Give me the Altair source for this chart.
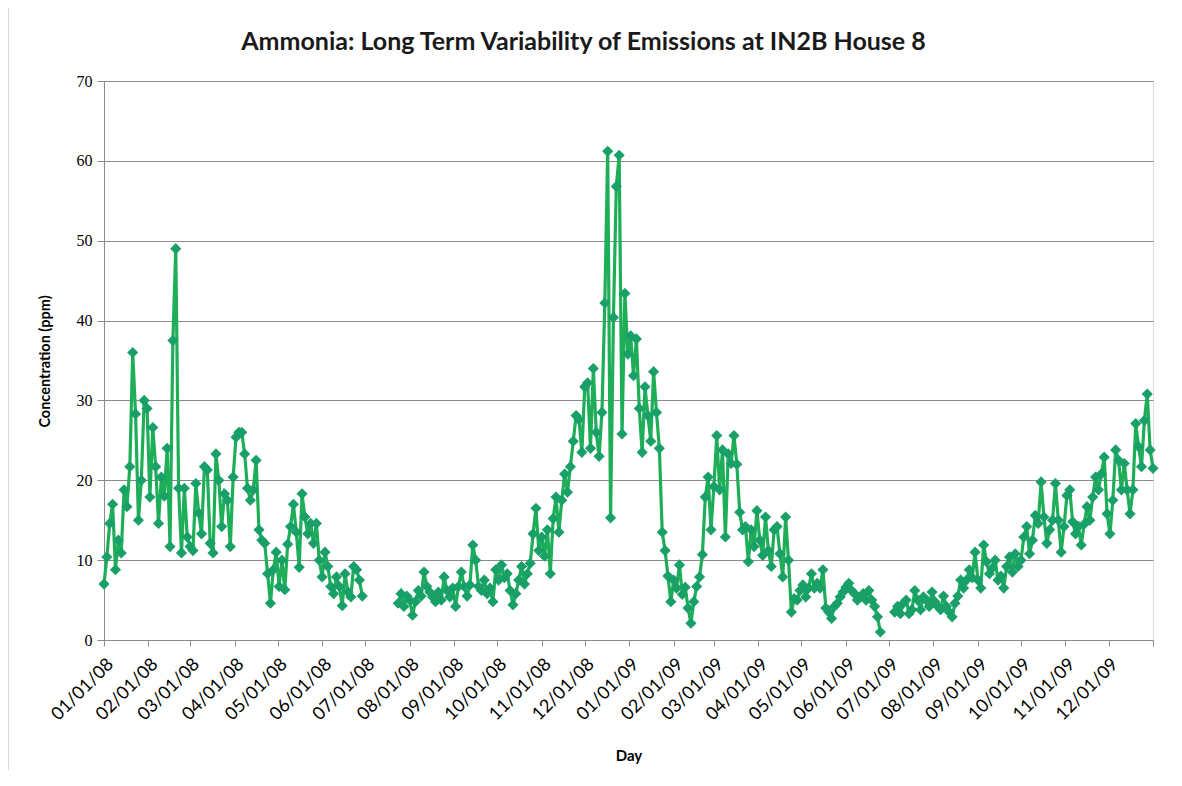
import altair as alt
import pandas as pd

# ---- data ----
step_days = 2

seg1_start = "2008-01-01"
seg1_values = [7.0, 10.4, 14.6, 17.0, 8.8, 12.5, 10.9, 18.8, 16.7, 21.7,
               36.0, 28.3, 15.0, 20.0, 30.0, 29.0, 17.9, 26.6, 21.7, 14.6,
               20.4, 18.0, 24.0, 11.7, 37.5, 49.0, 19.0, 10.9, 19.0, 12.9,
               11.7, 11.2, 19.6, 15.9, 13.3, 21.7, 21.3, 12.1, 10.9, 23.3,
               20.0, 14.2, 18.3, 17.5, 11.7, 20.4, 25.4, 26.0, 26.0, 23.3,
               19.0, 17.5, 18.8, 22.5, 13.8, 12.5, 12.1, 8.3, 4.6, 8.8,
               11.0, 6.7, 10.0, 6.3, 12.0, 14.2, 17.0, 13.5, 9.1, 18.3,
               15.4, 13.3, 14.6, 12.1, 14.6, 10.0, 7.9, 11.0, 9.2, 6.7,
               5.8, 7.9, 6.7, 4.3, 8.3, 6.0, 5.4, 9.2, 8.8, 7.5, 5.5]

seg2_start = "2008-07-24"
seg2_values = [4.6, 5.8, 4.2, 5.5, 5.0, 3.1, 4.8, 6.2, 5.5, 8.5,
               6.7, 6.0, 5.4, 4.8, 6.0, 5.0, 7.9, 6.2, 5.4, 6.5,
               4.2, 6.7, 8.5, 6.7, 5.5, 6.9, 11.9, 10.0, 6.7, 6.2,
               7.5, 5.8, 6.5, 4.8, 8.8, 7.5, 9.4, 7.8, 8.3, 6.2,
               4.4, 5.8, 7.5, 9.2, 7.0, 8.3, 9.6, 13.3, 16.5, 11.2,
               12.9, 10.5, 13.8, 8.3, 15.2, 17.9, 13.5, 17.5, 20.8, 18.5,
               21.7, 24.9, 28.1, 27.6, 23.5, 31.7, 32.2, 24.0, 34.0, 26.0,
               23.0, 28.5, 42.2, 61.2, 15.3, 40.4, 56.8, 60.7, 25.8, 43.4,
               35.8, 38.1, 33.1, 37.7, 29.0, 23.5, 31.7, 28.1, 24.9, 33.6,
               28.5, 24.0, 13.5, 11.2, 8.0, 4.8, 7.5, 6.5, 9.4, 5.7,
               6.6, 4.0, 2.1, 4.8, 6.7, 7.9, 10.7, 17.9, 20.4, 13.8,
               19.2, 25.6, 18.8, 23.8, 12.9, 23.3, 22.1, 25.6, 22.0, 16.0,
               13.8, 14.2, 9.8, 13.8, 11.7, 16.2, 12.5, 10.6, 15.4, 11.2,
               9.2, 13.8, 14.2, 10.8, 7.9, 15.4, 10.0, 3.5, 5.2, 5.0,
               6.2, 6.9, 5.4, 6.5, 8.3, 6.5, 7.1, 6.5, 8.8, 4.0,
               3.5, 2.7, 4.2, 4.6, 5.4, 6.0, 6.6, 7.1, 6.2, 5.8,
               5.0, 5.4, 5.8, 5.0, 6.2, 5.0, 4.2, 2.9, 1.0]

seg3_start = "2009-07-05"
seg3_values = [3.5, 4.2, 3.3, 4.6, 5.0, 3.3, 3.8, 6.2, 5.0, 3.8,
               5.4, 5.0, 4.2, 6.0, 4.8, 4.2, 3.8, 5.5, 4.2, 3.5,
               2.9, 4.6, 5.5, 7.5, 6.5, 7.5, 8.8, 7.8, 11.0, 7.5,
               6.5, 11.9, 9.8, 8.3, 9.0, 10.0, 7.5, 8.0, 6.5, 9.2,
               10.4, 8.5, 10.8, 9.2, 10.0, 12.9, 14.2, 10.8, 12.5, 15.6,
               14.6, 19.8, 15.4, 12.1, 13.8, 15.0, 19.6, 15.0, 11.0, 14.2,
               18.1, 18.8, 14.8, 13.3, 14.2, 11.9, 14.5, 16.7, 15.0, 17.9,
               20.4, 18.8, 20.8, 22.9, 15.8, 13.3, 17.5, 23.8, 22.5, 18.8,
               22.1, 18.8, 15.8, 18.8, 27.1, 24.2, 21.7, 27.5, 30.8, 23.8,
               21.5]

tick_dates = ["2008-01-01", "2008-02-01", "2008-03-01", "2008-04-01",
              "2008-05-01", "2008-06-01", "2008-07-01", "2008-08-01",
              "2008-09-01", "2008-10-01", "2008-11-01", "2008-12-01",
              "2009-01-01", "2009-02-01", "2009-03-01", "2009-04-01",
              "2009-05-01", "2009-06-01", "2009-07-01", "2009-08-01",
              "2009-09-01", "2009-10-01", "2009-11-01", "2009-12-01"]
axis_start = "2008-01-01"
axis_end = "2010-01-01"
y_ticks = [0, 10, 20, 30, 40, 50, 60, 70]

# ---- build table ----
rows = []
for seg_id, (start, vals) in enumerate([(seg1_start, seg1_values),
                                        (seg2_start, seg2_values),
                                        (seg3_start, seg3_values)]):
    dates = pd.date_range(start, periods=len(vals), freq=f"{step_days}D")
    for d, v in zip(dates, vals):
        rows.append({"day": d.strftime("%Y-%m-%d"), "ppm": v, "segment": seg_id})
df = pd.DataFrame(rows)


def dt(s):
    y, m, d = (int(p) for p in s.split("-"))
    return alt.DateTime(year=y, month=m, date=d, utc=True)


LINE_COLOR = "#1fae58"
MARK_COLOR = "#19a068"
GRID = "#8a8a8a"

x_enc = alt.X(
    "day:T",
    scale=alt.Scale(type="utc", domain=[dt(axis_start), dt(axis_end)]),
    axis=alt.Axis(
        values=[dt(s) for s in tick_dates + [axis_end]],
        format="%m/%d/%y",
        labelExpr="utcyear(datum.value) >= 2010 ? '' : datum.label",
        labelAngle=-45,
        labelOverlap=False,
        labelFont="Lato",
        labelFontSize=18,
        labelColor="#000000",
        labelPadding=9,
        grid=False,
        domainColor=GRID,
        tickColor=GRID,
        tickSize=6,
        title="Day",
        titleFont="Lato",
        titleFontSize=15,
        titleFontWeight="bold",
        titleColor="#000000",
        titleY=115,
        titleBaseline="middle",
    ),
)

y_enc = alt.Y(
    "ppm:Q",
    scale=alt.Scale(domain=[0, 70], nice=False, zero=True),
    axis=alt.Axis(
        values=y_ticks,
        labelFont="Liberation Serif",
        labelFontSize=16,
        labelColor="#000000",
        labelPadding=5,
        grid=True,
        gridColor=GRID,
        gridWidth=1,
        domainColor=GRID,
        tickColor=GRID,
        tickSize=7,
        title="Concentration (ppm)",
        titleFont="Lato",
        titleFontSize=14.5,
        titleFontWeight="bold",
        titleColor="#000000",
        titleX=-59,
        titleY=280,
        titleAngle=-90,
        titleAlign="center",
        titleBaseline="middle",
    ),
)

base = alt.Chart(df).encode(x=x_enc, y=y_enc)

line = base.mark_line(color=LINE_COLOR, strokeWidth=3.2).encode(detail="segment:N")
points = base.mark_point(shape="diamond", filled=True, size=125, color=MARK_COLOR, opacity=1)

frame_df = pd.DataFrame({"k": [0]})
left_border = alt.Chart(frame_df).mark_rule(color="#b0b0b0", strokeWidth=1).encode(
    x=alt.value(-96), y=alt.value(-74), y2=alt.value(720)
)
top_border = alt.Chart(frame_df).mark_rule(color="#b0b0b0", strokeWidth=1).encode(
    x=alt.value(-96), x2=alt.value(1060), y=alt.value(-74)
)

chart = alt.layer(left_border, top_border, line, points).properties(
    width=1049,
    height=559,
    autosize=alt.AutoSizeParams(type="none"),
    padding={"left": 96, "top": 73, "right": 20, "bottom": 130},
    title=alt.TitleParams(
        "Ammonia: Long Term Variability of Emissions at IN2B House 8",
        font="Lato",
        fontSize=25,
        fontWeight="bold",
        color="#1a1a1a",
        anchor="middle",
        frame="group",
        dx=-45,
        dy=74,
        offset=26,
    ),
).configure_view(stroke=None).configure(background="white")

chart.save("out.html", embed_options={"renderer": "svg", "actions": False})
